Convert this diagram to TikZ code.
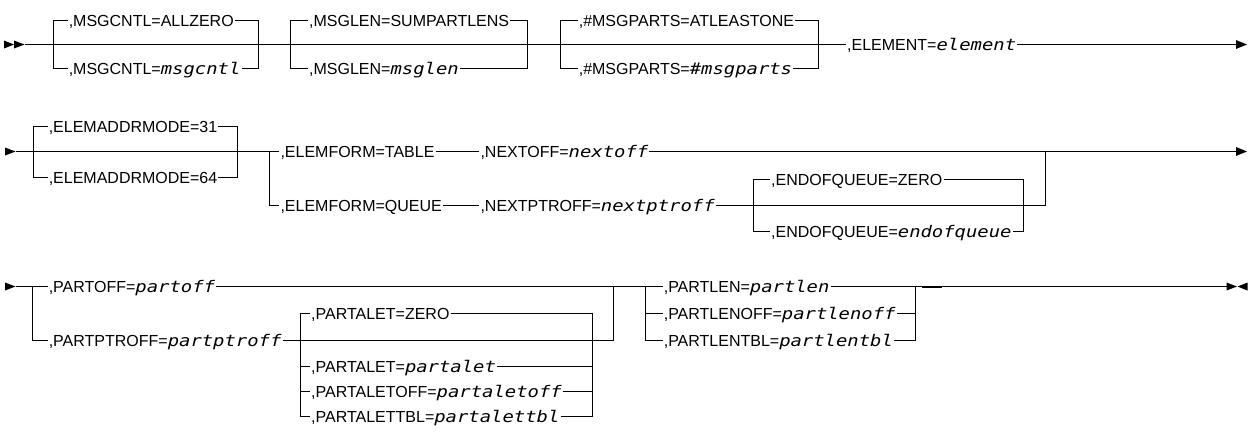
\documentclass[tikz,border=0pt]{standalone}
\usepackage{fontspec}
\setmainfont{Liberation Sans}
\newfontfamily\itmono[FakeStretch=1.18]{DejaVu Sans Mono Oblique}
\newcommand{\vv}[1]{{\itmono #1}}
\usetikzlibrary{arrows.meta}
\begin{document}
\begin{tikzpicture}[x=1pt,y=-1pt,
  rr/.style={line width=1.1pt},
  lbl/.style={anchor=base west,inner xsep=1pt,inner ysep=0pt,font=\fontsize{16}{19}\selectfont},
  endtip/.style={-{Triangle[length=11pt,width=8.6pt]}},
  tipfill/.style={fill=black}
]
\useasboundingbox (0,0) rectangle (1249,432);

% ================= Row 1 =================
\fill[tipfill] (4,40.5) -- (14,44.5) -- (4,48.5) -- cycle;
\fill[tipfill] (14,40.5) -- (24.5,44.5) -- (14,48.5) -- cycle;
\coordinate (r1s) at (24.5,44.5);
\coordinate (r1e) at (1247,44.5);

% group 1
\coordinate (g1tl) at (53.5,20.5);  \coordinate (g1bl) at (53.5,68.5);
\coordinate (g1tr) at (258.5,20.5); \coordinate (g1br) at (258.5,68.5);
\node[lbl] (t11) at (67.6,26.2) {,MSGCNTL=ALLZERO};
\node[lbl] (t12) at (67.6,74.2) {,MSGCNTL=\vv{msgcntl}};
\draw[rr] (g1bl) -- (g1tl) -- (t11.west |- g1tl);
\draw[rr] (t11.east |- g1tr) -- (g1tr) -- (g1br) -- (t12.east |- g1br);
\draw[rr] (g1bl) -- (t12.west |- g1bl);

% group 2
\coordinate (g2tl) at (290.5,20.5);  \coordinate (g2bl) at (290.5,68.5);
\coordinate (g2tr) at (527.5,20.5); \coordinate (g2br) at (527.5,68.5);
\node[lbl] (t21) at (308,26.2) {,MSGLEN=SUMPARTLENS};
\node[lbl] (t22) at (308,74.2) {,MSGLEN=\vv{msglen}};
\draw[rr] (g2bl) -- (g2tl) -- (t21.west |- g2tl);
\draw[rr] (t21.east |- g2tr) -- (g2tr) -- (g2br) -- (t22.east |- g2br);
\draw[rr] (g2bl) -- (t22.west |- g2bl);

% group 3
\coordinate (g3tl) at (560.5,20.5);  \coordinate (g3bl) at (560.5,68.5);
\coordinate (g3tr) at (818.5,20.5); \coordinate (g3br) at (818.5,68.5);
\node[lbl] (t31) at (577.6,26.2) {,\#MSGPARTS=ATLEASTONE};
\node[lbl] (t32) at (577.6,74.2) {,\#MSGPARTS=\vv{\#msgparts}};
\draw[rr] (g3bl) -- (g3tl) -- (t31.west |- g3tl);
\draw[rr] (t31.east |- g3tr) -- (g3tr) -- (g3br) -- (t32.east |- g3br);
\draw[rr] (g3bl) -- (t32.west |- g3bl);

\node[lbl] (el) at (846,50.2) {,ELEMENT=\vv{element}};
\draw[rr] (r1s) -- (el.west |- r1s);
\draw[rr,endtip] (el.east |- r1s) -- (r1e);

% ================= Row 2 =================
\fill[tipfill] (5,147.5) -- (15.5,151.5) -- (5,155.5) -- cycle;
\coordinate (r2s) at (15.5,151.5);
\coordinate (r2e) at (1247,151.5);

% ELEMADDRMODE group
\coordinate (e1tl) at (33.5,126.5);  \coordinate (e1bl) at (33.5,177.5);
\coordinate (e1tr) at (237.5,126.5); \coordinate (e1br) at (237.5,177.5);
\node[lbl] (ea1) at (47.6,132.2) {,ELEMADDRMODE=31};
\node[lbl] (ea2) at (47.6,183.2) {,ELEMADDRMODE=64};
\draw[rr] (e1bl) -- (e1tl) -- (ea1.west |- e1tl);
\draw[rr] (ea1.east |- e1tr) -- (e1tr) -- (e1br) -- (ea2.east |- e1br);
\draw[rr] (e1bl) -- (ea2.west |- e1bl);

% ELEMFORM group
\coordinate (ef1) at (269.5,151.5);
\coordinate (ef2) at (269.5,205.5);
\coordinate (ef3) at (1045.5,151.5);
\coordinate (ef4) at (1045.5,205.5);
\node[lbl] (tab) at (279.3,157.2) {,ELEMFORM=TABLE};
\node[lbl] (nxo) at (479.3,157.2) {,NEXTOFF=\vv{nextoff}};
\node[lbl] (que) at (279.3,211.2) {,ELEMFORM=QUEUE};
\node[lbl] (npo) at (479.3,211.2) {,NEXTPTROFF=\vv{nextptroff}};
\draw[rr] (r2s) -- (ef1) -- (tab.west |- ef1);
\draw[rr] (tab.east |- ef1) -- (nxo.west |- ef1);
\draw[rr,endtip] (nxo.east |- ef1) -- (r2e);
\draw[rr] (ef1) -- (ef2) -- (que.west |- ef2);
\draw[rr] (que.east |- ef2) -- (npo.west |- ef2);
\draw[rr] (npo.east |- ef2) -- (ef4) -- (ef3);

% ENDOFQUEUE group
\coordinate (q1tl) at (753.5,179.5);  \coordinate (q1bl) at (753.5,231.5);
\coordinate (q1tr) at (1023.5,179.5); \coordinate (q1br) at (1023.5,231.5);
\node[lbl] (eq1) at (770,185.2) {,ENDOFQUEUE=ZERO};
\node[lbl] (eq2) at (770,237.2) {,ENDOFQUEUE=\vv{endofqueue}};
\draw[rr] (q1bl) -- (q1tl) -- (eq1.west |- q1tl);
\draw[rr] (eq1.east |- q1tr) -- (q1tr) -- (q1br) -- (eq2.east |- q1br);
\draw[rr] (q1bl) -- (eq2.west |- q1bl);

% ================= Row 3 =================
\fill[tipfill] (5,282.5) -- (15.5,286.5) -- (5,290.5) -- cycle;
\coordinate (r3s) at (15.5,286.5);

\coordinate (p1) at (32.5,286.5);
\coordinate (p2) at (32.5,340.5);
\coordinate (p3) at (613.5,340.5);
\coordinate (p4) at (613.5,286.5);
\node[lbl] (pof) at (47.6,292.2) {,PARTOFF=\vv{partoff}};
\node[lbl] (ppt) at (47.6,346.2) {,PARTPTROFF=\vv{partptroff}};

% PARTLEN group nodes
\coordinate (l1tl) at (645.5,286.5);  \coordinate (l1bl) at (645.5,340.5);
\coordinate (l1ml) at (645.5,313.5);
\coordinate (l1tr) at (915.5,286.5);  \coordinate (l1br) at (915.5,340.5);
\coordinate (l1mr) at (915.5,313.5);
\node[lbl] (pl1) at (662.6,292.2) {,PARTLEN=\vv{partlen}};
\node[lbl] (pl2) at (662.6,319.2) {,PARTLENOFF=\vv{partlenoff}};
\node[lbl] (pl3) at (662.6,346.2) {,PARTLENTBL=\vv{partlentbl}};

\draw[rr] (r3s) -- (pof.west |- r3s);
\draw[rr] (pof.east |- r3s) -- (pl1.west |- r3s);
\draw[rr] (p1) -- (p2) -- (ppt.west |- p2);
\draw[rr] (ppt.east |- p2) -- (p3) -- (p4);

% PARTALET group
\coordinate (a1tl) at (300.5,313.5);  \coordinate (a1bl) at (300.5,416.5);
\coordinate (a1tr) at (592.5,313.5); \coordinate (a1br) at (592.5,416.5);
\coordinate (a1l2) at (300.5,366.5);  \coordinate (a1r2) at (592.5,366.5);
\coordinate (a1l3) at (300.5,391.5);  \coordinate (a1r3) at (592.5,391.5);
\node[lbl] (pa1) at (310,319.2) {,PARTALET=ZERO};
\node[lbl] (pa2) at (310,372.2) {,PARTALET=\vv{partalet}};
\node[lbl] (pa3) at (310,397.2) {,PARTALETOFF=\vv{partaletoff}};
\node[lbl] (pa4) at (310,422.2) {,PARTALETTBL=\vv{partalettbl}};
\draw[rr] (a1bl) -- (a1tl) -- (pa1.west |- a1tl);
\draw[rr] (pa1.east |- a1tr) -- (a1tr) -- (a1br) -- (pa4.east |- a1br);
\draw[rr] (a1bl) -- (pa4.west |- a1bl);
\draw[rr] (a1l2) -- (pa2.west |- a1l2);
\draw[rr] (pa2.east |- a1r2) -- (a1r2);
\draw[rr] (a1l3) -- (pa3.west |- a1l3);
\draw[rr] (pa3.east |- a1r3) -- (a1r3);

% PARTLEN group lines
\draw[rr] (l1tl) -- (l1bl) -- (pl3.west |- l1bl);
\draw[rr] (l1ml) -- (pl2.west |- l1ml);
\draw[rr] (pl1.east |- l1tr) -- (l1tr) -- (l1br) -- (pl3.east |- l1br);
\draw[rr] (pl2.east |- l1mr) -- (l1mr);

\coordinate (r3e) at (1226.5,286.5);
\draw[rr] (l1tr) -- (r3e);
\draw[line width=2pt] (921.5,286.5) -- (941.5,286.5);
\fill[tipfill] (1226.5,282.5) -- (1237,286.5) -- (1226.5,290.5) -- cycle;
\fill[tipfill] (1247.5,282.5) -- (1237.5,286.5) -- (1247.5,290.5) -- cycle;
\end{tikzpicture}
\end{document}
